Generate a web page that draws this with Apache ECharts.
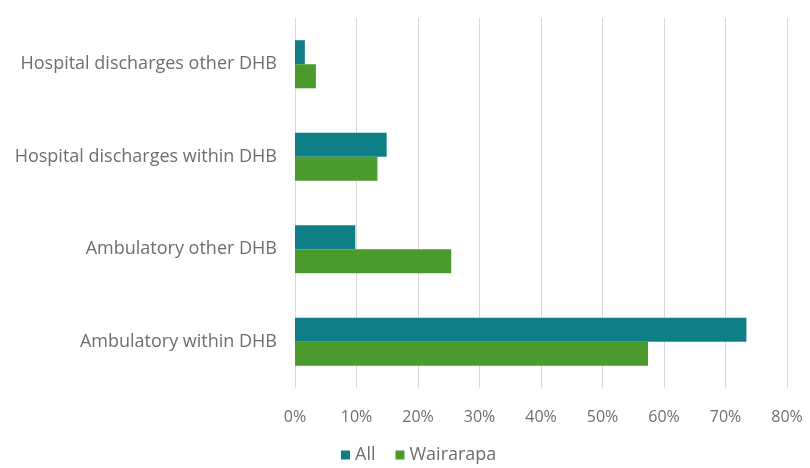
<!DOCTYPE html>
<html>
<head>
<meta charset="utf-8">
<script src="https://cdn.jsdelivr.net/npm/echarts@6/dist/echarts.min.js"></script>
<style>
  html, body { margin: 0; padding: 0; background: #ffffff; }
  #chart { width: 810px; height: 468px; }
</style>
</head>
<body>
<div id="chart"></div>
<script>
// Share of activity by setting, bottom-to-top order on the category axis
const categories = [
  'Ambulatory within DHB',
  'Ambulatory other DHB',
  'Hospital discharges within DHB',
  'Hospital discharges other DHB'
];
const allValues = [73.4, 9.8, 14.9, 1.6];
const wairarapaValues = [57.4, 25.4, 13.4, 3.4];
const xTicks = [0, 10, 20, 30, 40, 50, 60, 70, 80];

const textColor = '#6e6e6e';
const fontFamily = '"Open Sans", "Liberation Sans", sans-serif';

const chart = echarts.init(document.getElementById('chart'), null, { renderer: 'canvas' });
chart.setOption({
  animation: false,
  backgroundColor: '#ffffff',
  grid: { left: 295, right: 23, top: 18, bottom: 80, containLabel: false },
  legend: {
    data: ['All', 'Wairarapa'],
    left: 341,
    top: 446,
    padding: 0,
    itemWidth: 9,
    itemHeight: 9,
    itemGap: 20,
    icon: 'rect',
    textStyle: { color: textColor, fontSize: 18, fontFamily: fontFamily }
  },
  xAxis: {
    type: 'value',
    min: xTicks[0],
    max: xTicks[xTicks.length - 1],
    interval: 10,
    axisLine: { show: false },
    axisTick: { show: false },
    splitLine: { show: true, lineStyle: { color: '#d9d9d9', width: 1 } },
    axisLabel: {
      color: textColor,
      fontSize: 16,
      fontFamily: fontFamily,
      margin: 21,
      formatter: v => v + '%'
    }
  },
  yAxis: {
    type: 'category',
    data: categories,
    axisLine: { show: false },
    axisTick: { show: false },
    axisLabel: { color: textColor, fontSize: 18, fontFamily: fontFamily, margin: 18 }
  },
  series: [
    {
      name: 'All',
      type: 'bar',
      data: allValues,
      itemStyle: { color: '#0e7f87' },
      barGap: '0%',
      barCategoryGap: '48%'
    },
    {
      name: 'Wairarapa',
      type: 'bar',
      data: wairarapaValues,
      itemStyle: { color: '#4a9a2c' },
      barGap: '0%',
      barCategoryGap: '48%'
    }
  ]
});
</script>
</body>
</html>
